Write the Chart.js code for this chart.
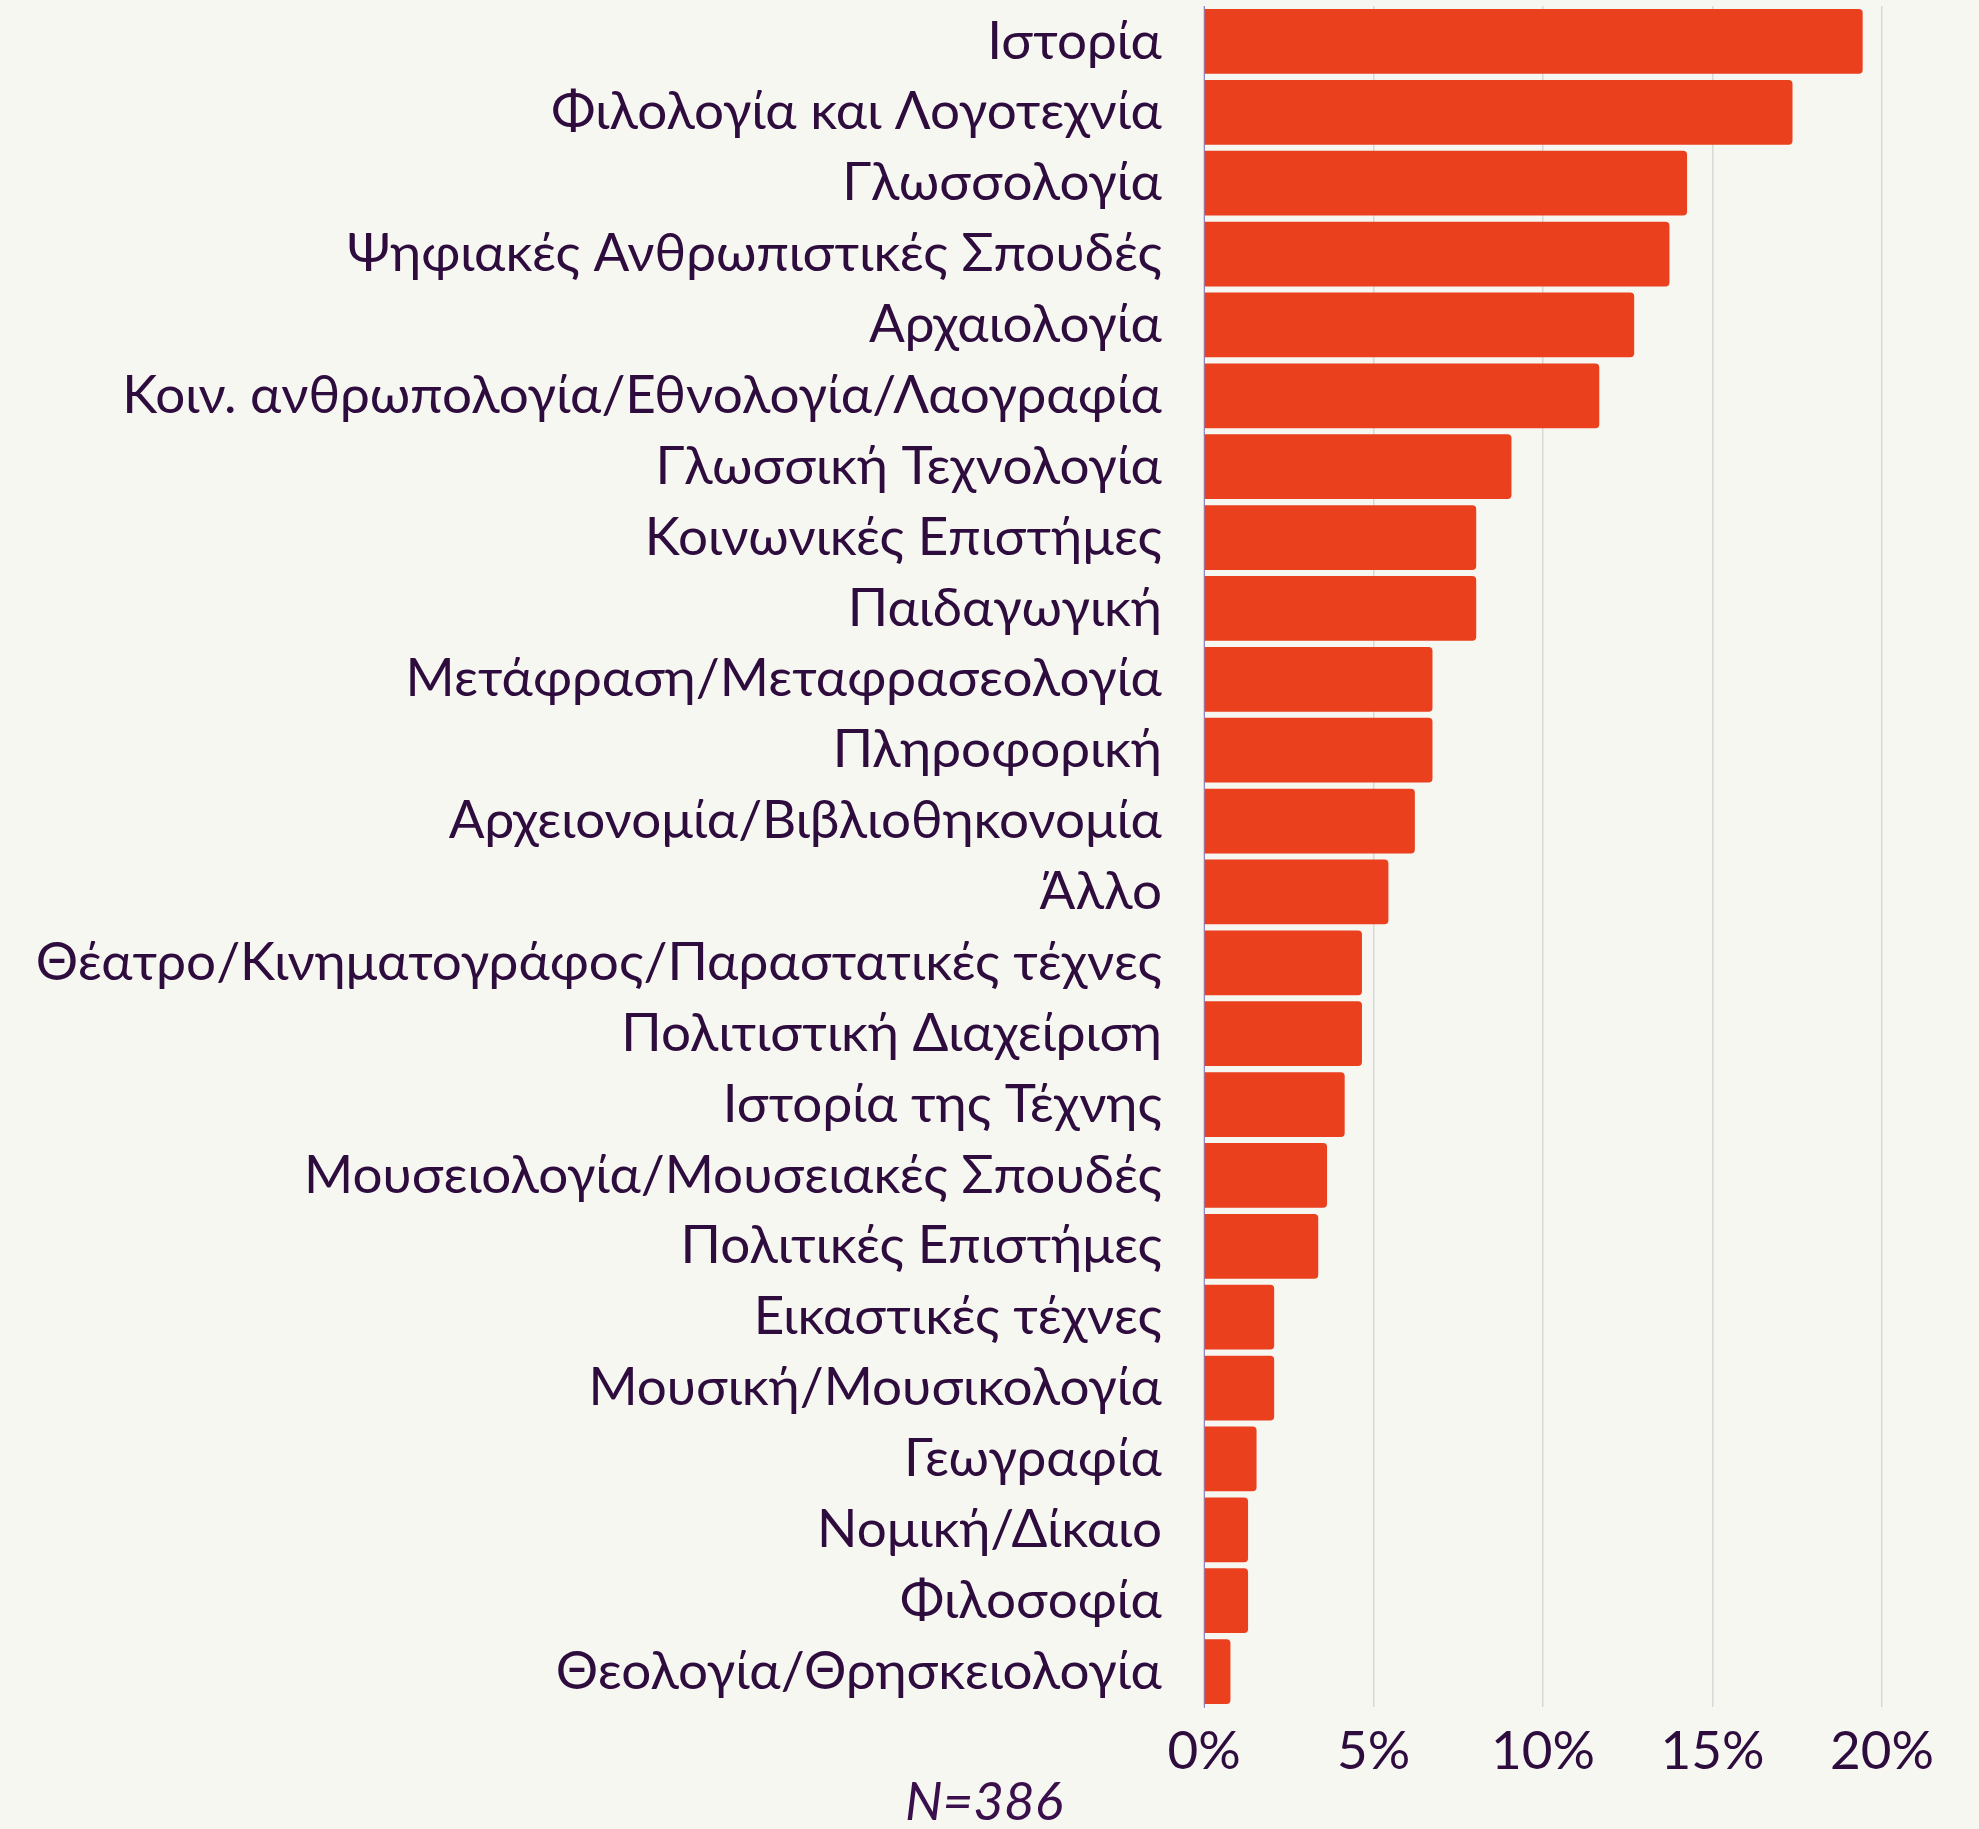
<!DOCTYPE html>
<html>
<head>
<meta charset="utf-8">
<script src="https://cdn.jsdelivr.net/npm/chart.js@4.4.0/dist/chart.umd.min.js"></script>
<style>
  html, body { margin: 0; padding: 0; background: #f7f7f2; }
  #wrap { width: 1979px; height: 1829px; }
  canvas { display: block; }
</style>
</head>
<body>
<div id="wrap"><canvas id="c" width="1979" height="1829"></canvas></div>
<script>
const categories = [
  "Ιστορία",
  "Φιλολογία και Λογοτεχνία",
  "Γλωσσολογία",
  "Ψηφιακές Ανθρωπιστικές Σπουδές",
  "Αρχαιολογία",
  "Κοιν. ανθρωπολογία/Εθνολογία/Λαογραφία",
  "Γλωσσική Τεχνολογία",
  "Κοινωνικές Επιστήμες",
  "Παιδαγωγική",
  "Μετάφραση/Μεταφρασεολογία",
  "Πληροφορική",
  "Αρχειονομία/Βιβλιοθηκονομία",
  "Άλλο",
  "Θέατρο/Κινηματογράφος/Παραστατικές τέχνες",
  "Πολιτιστική Διαχείριση",
  "Ιστορία της Τέχνης",
  "Μουσειολογία/Μουσειακές Σπουδές",
  "Πολιτικές Επιστήμες",
  "Εικαστικές τέχνες",
  "Μουσική/Μουσικολογία",
  "Γεωγραφία",
  "Νομική/Δίκαιο",
  "Φιλοσοφία",
  "Θεολογία/Θρησκειολογία"
];
const percentages = [
  19.43, 17.36, 14.25, 13.73, 12.69, 11.66, 9.07, 8.03, 8.03, 6.74, 6.74, 6.22,
  5.44, 4.66, 4.66, 4.15, 3.63, 3.37, 2.07, 2.07, 1.55, 1.30, 1.30, 0.78
];
const xTickValues = [0, 5, 10, 15, 20];
const xTickLabels = ["0%", "5%", "10%", "15%", "20%"];
const sampleNote = "N=386";

const TEXT = "#2e0c3e";
const FONT = "Lato, 'Noto Sans', sans-serif";

const titleCenterPlugin = {
  id: "titleCenter",
  afterLayout(chart) {
    if (chart.titleBlock) {
      chart.titleBlock.left = 0;
      chart.titleBlock.right = 1968;
    }
  }
};

new Chart(document.getElementById("c"), {
  type: "bar",
  data: {
    labels: categories,
    datasets: [{
      data: percentages,
      backgroundColor: "#ea401e",
      borderWidth: 0,
      borderRadius: 4,
      borderSkipped: "start",
      barPercentage: 0.915,
      categoryPercentage: 1.0
    }]
  },
  plugins: [titleCenterPlugin],
  options: {
    indexAxis: "y",
    responsive: false,
    animation: false,
    layout: { padding: { top: 6, right: 97, left: 0, bottom: 0 } },
    plugins: {
      legend: { display: false },
      tooltip: { enabled: false },
      title: {
        display: true,
        position: "bottom",
        text: sampleNote,
        color: "#3a0f4c",
        font: { family: FONT, size: 53, style: "italic", weight: "normal", lineHeight: 1 },
        padding: { top: 0, bottom: 0 }
      }
    },
    scales: {
      x: {
        min: 0,
        max: 20,
        afterBuildTicks: (scale) => { scale.ticks = xTickValues.map(v => ({ value: v })); },
        afterFit: (scale) => { scale.height = 69; scale.paddingLeft = 0; scale.paddingRight = 0; },
        ticks: {
          color: TEXT,
          font: { family: FONT, size: 53, lineHeight: 1.2 },
          padding: 13,
          maxRotation: 0,
          callback: (v, i) => xTickLabels[i]
        },
        grid: { color: "#d8d8d8", lineWidth: 1.5, drawTicks: false },
        border: { display: false }
      },
      y: {
        afterFit: (scale) => { scale.width = 1204; scale.paddingTop = 0; scale.paddingBottom = 0; },
        ticks: {
          color: TEXT,
          font: { family: FONT, size: 53, lineHeight: 1.2 },
          padding: 42,
          autoSkip: false
        },
        grid: { display: false, drawTicks: false },
        border: { display: true, color: "#8c86c4", width: 1 }
      }
    }
  }
});
</script>
</body>
</html>
